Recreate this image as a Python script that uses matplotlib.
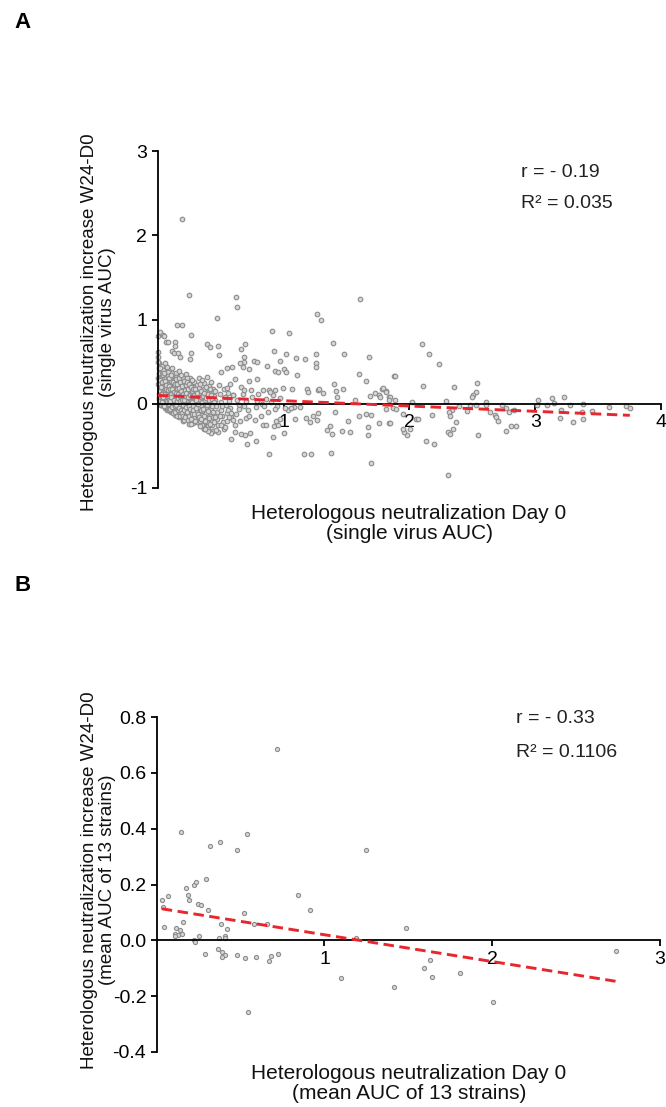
import matplotlib.pyplot as plt
import numpy as np

plt.rcParams['font.family'] = ['Liberation Sans', 'DejaVu Sans']
plt.rcParams['axes.unicode_minus'] = False

# panel A: per-virus AUC, (day 0, increase W24-D0)
cluster_a = [
    (0.004, 0.62), (0.006, 0.55), (0.008, 0.48), (0.010, 0.41), (0.012, 0.35), (0.005, 0.30),
    (0.009, 0.26), (0.014, 0.22), (0.018, 0.18), (0.020, 0.14), (0.007, 0.11), (0.011, 0.08),
    (0.016, 0.05), (0.022, 0.02), (0.025, -0.01), (0.003, 0.50), (0.013, 0.44), (0.019, 0.38),
    (0.024, 0.32), (0.028, 0.27), (0.006, 0.23), (0.015, 0.19), (0.021, 0.15), (0.027, 0.10),
    (0.010, 0.06), (0.017, 0.03), (0.023, 0.00), (0.029, -0.02), (0.012, 0.36), (0.026, 0.12),
    (0.032, 0.45), (0.035, 0.38), (0.038, 0.31), (0.040, 0.27), (0.042, 0.22), (0.045, 0.17),
    (0.047, 0.13), (0.050, 0.09), (0.052, 0.05), (0.055, 0.02), (0.057, -0.02), (0.060, -0.05),
    (0.034, 0.12), (0.036, 0.07), (0.039, 0.03), (0.041, -0.01), (0.044, 0.34), (0.048, 0.29),
    (0.051, 0.24), (0.054, 0.19), (0.058, 0.15), (0.061, 0.11), (0.064, 0.06), (0.066, 0.01),
    (0.068, -0.04), (0.070, -0.07), (0.062, 0.41), (0.065, 0.36), (0.069, 0.31), (0.072, 0.26),
    (0.074, 0.21), (0.076, 0.16), (0.078, 0.12), (0.073, 0.08), (0.075, 0.03), (0.077, -0.01),
    (0.079, -0.06), (0.071, 0.44), (0.056, 0.48), (0.046, 0.40),
    (0.082, 0.38), (0.085, 0.33), (0.087, 0.28), (0.090, 0.23), (0.092, 0.19), (0.095, 0.14),
    (0.097, 0.10), (0.100, 0.06), (0.102, 0.02), (0.104, -0.03), (0.106, -0.07), (0.108, -0.10),
    (0.084, 0.09), (0.088, 0.04), (0.091, 0.00), (0.094, -0.05), (0.098, -0.09), (0.110, 0.42),
    (0.112, 0.36), (0.114, 0.30), (0.116, 0.25), (0.118, 0.20), (0.120, 0.16), (0.122, 0.12),
    (0.124, 0.07), (0.126, 0.03), (0.128, -0.01), (0.130, -0.06), (0.132, -0.11), (0.134, -0.13),
    (0.113, 0.11), (0.117, 0.05), (0.121, -0.02), (0.125, -0.08), (0.129, 0.22), (0.133, 0.28),
    (0.136, 0.17), (0.138, 0.09), (0.139, 0.01), (0.105, 0.27),
    (0.142, 0.37), (0.145, 0.32), (0.148, 0.26), (0.150, 0.21), (0.153, 0.15), (0.155, 0.10),
    (0.158, 0.05), (0.160, 0.00), (0.162, -0.04), (0.165, -0.09), (0.167, -0.13), (0.170, -0.16),
    (0.172, 0.39), (0.175, 0.33), (0.177, 0.28), (0.180, 0.22), (0.182, 0.17), (0.185, 0.12),
    (0.187, 0.07), (0.190, 0.02), (0.192, -0.03), (0.195, -0.07), (0.197, -0.12), (0.200, -0.17),
    (0.202, -0.20), (0.146, 0.07), (0.151, -0.06), (0.157, 0.18), (0.163, 0.25), (0.168, 0.04),
    (0.173, -0.01), (0.178, -0.11), (0.183, 0.29), (0.188, -0.15), (0.193, 0.14), (0.198, 0.09),
    (0.205, 0.31), (0.207, 0.24), (0.209, 0.19), (0.211, 0.13), (0.213, 0.06), (0.215, 0.01),
    (0.217, -0.05), (0.219, -0.10), (0.210, -0.19),
    (0.222, 0.35), (0.225, 0.28), (0.228, 0.22), (0.230, 0.16), (0.233, 0.10), (0.236, 0.04),
    (0.238, -0.01), (0.241, -0.06), (0.244, -0.12), (0.246, -0.17), (0.249, -0.21), (0.252, -0.24),
    (0.255, 0.30), (0.258, 0.24), (0.260, 0.18), (0.263, 0.12), (0.266, 0.06), (0.268, 0.00),
    (0.271, -0.05), (0.274, -0.10), (0.277, -0.15), (0.279, -0.20), (0.282, -0.23), (0.285, 0.26),
    (0.288, 0.20), (0.291, 0.14), (0.294, 0.08), (0.297, 0.02), (0.300, -0.03), (0.303, -0.09),
    (0.306, -0.14), (0.309, -0.19), (0.312, -0.22), (0.315, 0.22), (0.318, 0.15), (0.320, 0.09),
    (0.229, 0.31), (0.247, 0.07), (0.262, -0.08), (0.276, 0.15), (0.290, -0.17), (0.305, 0.11),
    (0.240, 0.20), (0.270, 0.28), (0.313, 0.03),
    (0.325, 0.30), (0.330, 0.19), (0.334, 0.12), (0.338, 0.05), (0.342, -0.02), (0.346, -0.08),
    (0.350, -0.13), (0.354, -0.19), (0.358, -0.24), (0.362, -0.28), (0.366, 0.25), (0.370, 0.17),
    (0.374, 0.10), (0.378, 0.03), (0.382, -0.04), (0.386, -0.11), (0.390, -0.17), (0.394, -0.22),
    (0.398, -0.27), (0.402, -0.30), (0.406, 0.21), (0.410, 0.14), (0.414, 0.07), (0.418, 0.00),
    (0.422, -0.06), (0.426, -0.14), (0.430, -0.20), (0.434, -0.25), (0.438, -0.32), (0.442, 0.18),
    (0.446, 0.09), (0.350, 0.28), (0.390, 0.32), (0.420, 0.26), (0.370, -0.30),
    (0.452, 0.15), (0.458, 0.05), (0.462, -0.03), (0.468, -0.10), (0.472, -0.18), (0.478, -0.25),
    (0.482, -0.33), (0.488, 0.22), (0.494, 0.12), (0.500, 0.02), (0.506, -0.07), (0.512, -0.14),
    (0.518, -0.22), (0.524, -0.30), (0.530, 0.18), (0.536, 0.08), (0.542, -0.02), (0.548, -0.11),
    (0.554, -0.20), (0.560, 0.13), (0.566, 0.03), (0.572, -0.05), (0.578, 0.24), (0.585, -0.16),
    (0.595, 0.10),
    (0.600, 0.10), (0.630, 0.05), (0.650, -0.02), (0.680, 0.12), (0.700, 0.03), (0.720, -0.08),
    (0.750, 0.08), (0.780, -0.04), (0.800, 0.11), (0.830, 0.00), (0.860, 0.06), (0.880, -0.10),
    (0.900, 0.02), (0.950, -0.03), (0.970, 0.07), (0.620, -0.12), (0.660, 0.20), (0.740, 0.16),
    (0.820, -0.15), (0.920, 0.10),
    (0.015, 0.28), (0.020, 0.42), (0.030, 0.20), (0.033, 0.02), (0.037, 0.26), (0.043, 0.08),
    (0.049, -0.03), (0.053, 0.36), (0.059, 0.27), (0.063, 0.18), (0.067, 0.22), (0.083, 0.16),
    (0.086, 0.21), (0.089, -0.07), (0.093, 0.31), (0.096, 0.03), (0.099, 0.18), (0.101, -0.06),
    (0.103, 0.12), (0.107, 0.34), (0.109, 0.08), (0.111, -0.04), (0.115, 0.18), (0.119, -0.11),
    (0.123, 0.26), (0.127, 0.14), (0.131, 0.05), (0.135, -0.03), (0.137, 0.24), (0.141, -0.10),
    (0.144, 0.13), (0.147, -0.02), (0.149, 0.29), (0.152, 0.03), (0.154, -0.14), (0.156, 0.23),
    (0.159, -0.08), (0.161, 0.12), (0.164, 0.07), (0.166, 0.31), (0.169, -0.05), (0.171, 0.19),
    (0.174, 0.09), (0.176, -0.14), (0.179, 0.03), (0.181, 0.26), (0.184, -0.07), (0.186, 0.15),
    (0.189, 0.34), (0.191, -0.11), (0.194, 0.05), (0.196, 0.21), (0.199, -0.02), (0.201, 0.12),
    (0.204, -0.14), (0.206, 0.04), (0.208, 0.27), (0.212, -0.07), (0.214, 0.16), (0.216, 0.09),
    (0.218, -0.16), (0.221, 0.22), (0.224, -0.04), (0.227, 0.13), (0.231, -0.10), (0.234, 0.26),
    (0.237, -0.19), (0.239, 0.08), (0.243, 0.17), (0.245, -0.03), (0.248, 0.24), (0.251, -0.14),
    (0.254, 0.10), (0.257, -0.06), (0.261, 0.03), (0.264, -0.18), (0.267, 0.20), (0.269, -0.12),
    (0.273, 0.09), (0.275, 0.02), (0.278, -0.03), (0.281, 0.18), (0.284, -0.07), (0.287, 0.10),
    (0.292, -0.12), (0.296, 0.17), (0.299, -0.20), (0.302, 0.05), (0.308, -0.05), (0.311, 0.13),
    (0.317, -0.12), (0.322, 0.00), (0.328, -0.16), (0.333, 0.23), (0.337, -0.21), (0.341, 0.08),
    (0.345, 0.15), (0.349, -0.25), (0.353, 0.02), (0.357, 0.09), (0.361, -0.06), (0.365, 0.13),
    (0.369, -0.15), (0.373, 0.05), (0.377, -0.20), (0.381, 0.20), (0.385, 0.07), (0.389, -0.01),
    (0.397, 0.12), (0.401, -0.09), (0.405, 0.04), (0.409, -0.17), (0.413, 0.17), (0.417, -0.24),
    (0.425, 0.10), (0.429, -0.03), (0.433, 0.06), (0.437, -0.10), (0.441, -0.16), (0.445, 0.02),
    (0.449, -0.22),
]

spread_a = [
    (0.197, 2.198), (0.245, 1.289), (0.624, 1.265), (0.629, 1.146), (0.468, 1.012), (1.263, 1.067),
    (1.297, 1.000), (1.608, 1.245), (0.150, 0.937), (0.197, 0.937), (0.005, 0.800), (0.021, 0.850),
    (0.039, 0.820), (0.047, 0.800), (0.066, 0.735), (0.079, 0.735), (0.134, 0.735), (0.139, 0.680),
    (0.268, 0.814), (0.110, 0.632), (0.132, 0.605), (0.158, 0.600), (0.174, 0.557), (0.268, 0.605),
    (0.255, 0.534), (0.476, 0.684), (0.489, 0.573), (0.395, 0.708), (0.418, 0.676), (0.663, 0.648),
    (0.692, 0.715), (0.687, 0.549), (0.908, 0.858), (1.045, 0.842), (0.926, 0.621), (1.016, 0.593),
    (1.395, 0.719), (1.479, 0.589), (1.679, 0.549), (1.597, 0.356), (1.879, 0.328), (1.258, 0.585),
    (1.103, 0.538), (1.174, 0.534), (1.258, 0.478), (1.258, 0.431), (0.974, 0.502), (0.934, 0.391),
    (0.958, 0.379), (1.005, 0.407), (1.021, 0.375), (1.105, 0.344), (0.868, 0.443), (0.763, 0.502),
    (0.787, 0.494), (0.687, 0.498), (0.653, 0.486), (0.674, 0.435), (0.724, 0.407), (0.613, 0.289),
    (0.726, 0.273), (0.787, 0.289), (0.503, 0.372), (0.553, 0.427), (0.592, 0.431), (0.547, 0.182),
    (0.684, 0.162), (0.834, 0.162), (0.882, 0.162), (0.895, 0.138), (0.932, 0.162), (0.995, 0.190),
    (1.071, 0.178), (1.184, 0.178), (1.197, 0.142), (1.271, 0.162), (1.284, 0.178), (1.313, 0.123),
    (1.403, 0.237), (1.421, 0.146), (1.474, 0.170), (1.426, 0.079), (1.566, 0.043), (1.684, 0.091),
    (1.653, 0.265), (1.724, 0.126), (1.758, 0.107), (1.784, 0.170), (1.811, 0.146), (1.837, 0.079),
    (1.882, 0.040),
    (0.882, -0.593), (1.161, -0.601), (1.216, -0.601), (1.376, -0.581), (1.692, -0.708), (0.584, -0.423),
    (0.711, -0.474), (0.782, -0.443), (0.918, -0.395), (1.005, -0.344), (0.924, -0.265), (0.955, -0.257),
    (0.942, -0.206), (0.974, -0.186), (0.837, -0.257), (0.863, -0.257), (0.658, -0.206), (0.700, -0.166),
    (0.726, -0.146), (0.776, -0.198), (0.660, -0.364), (0.695, -0.372), (0.737, -0.344), (0.613, -0.332),
    (0.616, -0.257), (0.595, -0.198), (0.534, -0.277), (0.505, -0.257), (0.461, -0.308), (0.421, -0.352),
    (0.400, -0.324), (0.374, -0.304), (0.334, -0.265), (0.268, -0.245), (0.342, -0.186), (0.453, -0.154),
    (0.492, -0.146), (0.568, -0.154), (1.037, -0.079), (1.087, -0.040), (1.095, -0.178), (1.179, -0.166),
    (1.211, -0.213), (1.234, -0.146), (1.268, -0.198), (1.274, -0.107), (1.342, -0.316), (1.389, -0.364),
    (1.368, -0.265), (1.408, -0.095), (1.468, -0.324), (1.526, -0.340), (1.511, -0.206), (1.600, -0.146),
    (1.668, -0.273), (1.671, -0.375), (1.761, -0.225), (1.839, -0.225), (1.658, -0.126), (1.695, -0.130),
    (1.811, -0.059), (1.874, -0.051), (0.789, 0.032), (0.842, -0.028), (0.932, -0.059), (1.011, -0.051),
    (1.063, -0.055), (1.132, -0.043), (0.645, -0.067), (0.684, -0.028), (0.513, -0.028), (0.561, -0.075),
    (0.584, -0.107),
    (2.098, 0.715), (2.157, 0.585), (2.239, 0.470), (1.887, 0.328), (2.106, 0.206), (2.356, 0.198),
    (1.794, 0.186), (1.812, 0.142), (1.846, 0.075), (1.841, 0.040), (1.767, 0.079), (2.019, 0.024),
    (2.294, 0.036), (2.541, 0.245), (2.528, 0.142), (2.507, 0.103), (2.496, 0.075), (2.483, -0.016),
    (2.530, -0.016), (2.610, 0.024), (2.610, -0.016), (2.393, -0.028), (2.456, -0.087), (2.340, -0.075),
    (2.316, -0.099), (2.321, -0.146), (2.311, -0.336), (2.327, -0.360), (2.343, -0.304), (2.370, -0.213),
    (2.305, -0.850), (2.131, -0.447), (2.199, -0.482), (1.979, -0.368), (1.961, -0.332), (1.947, -0.296),
    (2.005, -0.304), (2.056, -0.178), (2.072, -0.178), (1.953, -0.123), (1.895, -0.059), (1.847, -0.229),
    (2.183, -0.134), (2.642, -0.095), (2.677, -0.130), (2.688, -0.162), (2.701, -0.206), (2.737, -0.016),
    (2.769, -0.051), (2.795, -0.099), (2.835, -0.075), (2.769, -0.324), (2.809, -0.265), (2.849, -0.269),
    (2.546, -0.375), (3.026, 0.043), (3.013, -0.016), (3.092, -0.012), (3.132, 0.063), (3.151, 0.012),
    (3.233, 0.079), (3.278, -0.016), (3.379, -0.008), (3.206, -0.079), (3.201, -0.170), (3.299, -0.221),
    (3.376, -0.099), (3.381, -0.186), (3.455, -0.091), (3.590, -0.043), (3.720, -0.024), (3.752, -0.051),
]

# panel B: mean AUC of 13 strains per subject
points_b = [
    (0.030, 0.143), (0.036, 0.121), (0.068, 0.158), (0.046, 0.048), (0.143, 0.388), (0.173, 0.186),
    (0.187, 0.162), (0.195, 0.146), (0.157, 0.065), (0.118, 0.045), (0.141, 0.036), (0.112, 0.024),
    (0.125, 0.019), (0.108, 0.014), (0.149, 0.021), (0.223, 0.200), (0.233, 0.210), (0.291, 0.219),
    (0.247, 0.129), (0.265, 0.127), (0.303, 0.107), (0.319, 0.339), (0.376, 0.354), (0.478, 0.325),
    (0.536, 0.382), (0.522, 0.098), (0.253, 0.014), (0.221, 0.002), (0.229, -0.005), (0.287, -0.050),
    (0.382, 0.057), (0.418, 0.042), (0.374, 0.010), (0.406, 0.015), (0.406, 0.010), (0.367, -0.030),
    (0.390, -0.043), (0.406, -0.051), (0.390, -0.061), (0.480, -0.054), (0.528, -0.063), (0.578, 0.058),
    (0.592, -0.058), (0.655, 0.057), (0.669, -0.073), (0.681, -0.056), (0.725, -0.049), (0.715, 0.685),
    (0.546, -0.257), (0.845, 0.163), (0.914, 0.107), (1.096, -0.135), (1.187, 0.007), (1.247, 0.324),
    (1.487, 0.044), (1.628, -0.069), (1.592, -0.098), (1.642, -0.131), (1.805, -0.117), (1.415, -0.167),
    (2.006, -0.220), (2.735, -0.038),
]

# linear fits (intercept, slope) and correlation stats
fit_a = (0.099, -0.063)
fit_b = (0.116, -0.096)
stats_a = ['r = - 0.19', 'R² = 0.035']
stats_b = ['r = - 0.33', 'R² = 0.1106']

W, H = 666, 1107
fig = plt.figure(figsize=(W / 100, H / 100), dpi=100)


def px(x0, y0, x1, y1):
    # pixel box -> figure fraction rect
    return [x0 / W, 1 - y1 / H, (x1 - x0) / W, (y1 - y0) / H]


def panel(rect, pts, fit, xmax, ylim, yticks, ylabels, xticks, size):
    ax = fig.add_axes(rect)
    pts = np.array(pts)
    ax.scatter(pts[:, 0], pts[:, 1], s=size, facecolor='#d6d6d6', edgecolor='#8c8c8c',
               linewidths=0.8, clip_on=False, zorder=2)
    xs = np.array([pts[:, 0].min(), pts[:, 0].max()])
    ax.plot(xs, fit[0] + fit[1] * xs, color='#e8262d', lw=2.1, dashes=(3.6, 1.9), zorder=4)
    ax.set_xlim(0, xmax)
    ax.set_ylim(*ylim)
    for s in ['top', 'right']:
        ax.spines[s].set_visible(False)
    ax.spines['bottom'].set_position(('data', 0))
    for s in ['left', 'bottom']:
        ax.spines[s].set_linewidth(1.3)
        ax.spines[s].set_zorder(3)
    ax.set_yticks(yticks)
    ax.set_yticklabels(ylabels)
    ax.set_xticks(xticks)
    ax.set_xticklabels([str(t) for t in xticks])
    ax.tick_params(labelsize=14, length=4.5, width=1.3, pad=3, colors='black')
    ax.patch.set_visible(False)
    return ax


panel(px(157.7, 151, 661, 488), cluster_a + spread_a, fit_a, 4, (-1, 3),
      [-1, 0, 1, 2, 3], ['-1', '0', '1', '2', '3'], [1, 2, 3, 4], 11)
panel(px(156.7, 717, 660, 1052), points_b, fit_b, 3, (-0.4, 0.8),
      [-0.4, -0.2, 0, 0.2, 0.4, 0.6, 0.8], ['-0.4', '-0.2', '0.0', '0.2', '0.4', '0.6', '0.8'],
      [1, 2, 3], 9)

ytitle = 'Heterologous neutralization increase W24-D0'
xtitle = 'Heterologous neutralization Day 0'
for unit, yc, xc in [('single virus AUC', 322, 523.5), ('mean AUC of 13 strains', 880, 1083.5)]:
    # rotated title, one text per line
    fig.text(90 / W, 1 - yc / H, ytitle, rotation=90, ha='center', va='center',
             fontsize=13.5, color='#111111')
    fig.text(108 / W, 1 - yc / H, '(' + unit + ')', rotation=90, ha='center', va='center',
             fontsize=13.5, color='#111111')
    fig.text(409 / W, 1 - xc / H, xtitle + '\n(' + unit + ')', ha='center', va='center',
             fontsize=15, linespacing=1.1, multialignment='center', color='#111111')

for stats, x0, ys in [(stats_a, 521, (177, 208)), (stats_b, 516, (723, 757))]:
    for txt, yb in zip(stats, ys):
        fig.text(x0 / W, 1 - yb / H, txt, ha='left', va='baseline', fontsize=14, color='#222222')

fig.text(14 / W, 1 - 28 / H, 'A', fontsize=16, fontweight='bold', va='baseline')
fig.text(14 / W, 1 - 591 / H, 'B', fontsize=16, fontweight='bold', va='baseline')

fig.savefig('out.png', dpi=100)
